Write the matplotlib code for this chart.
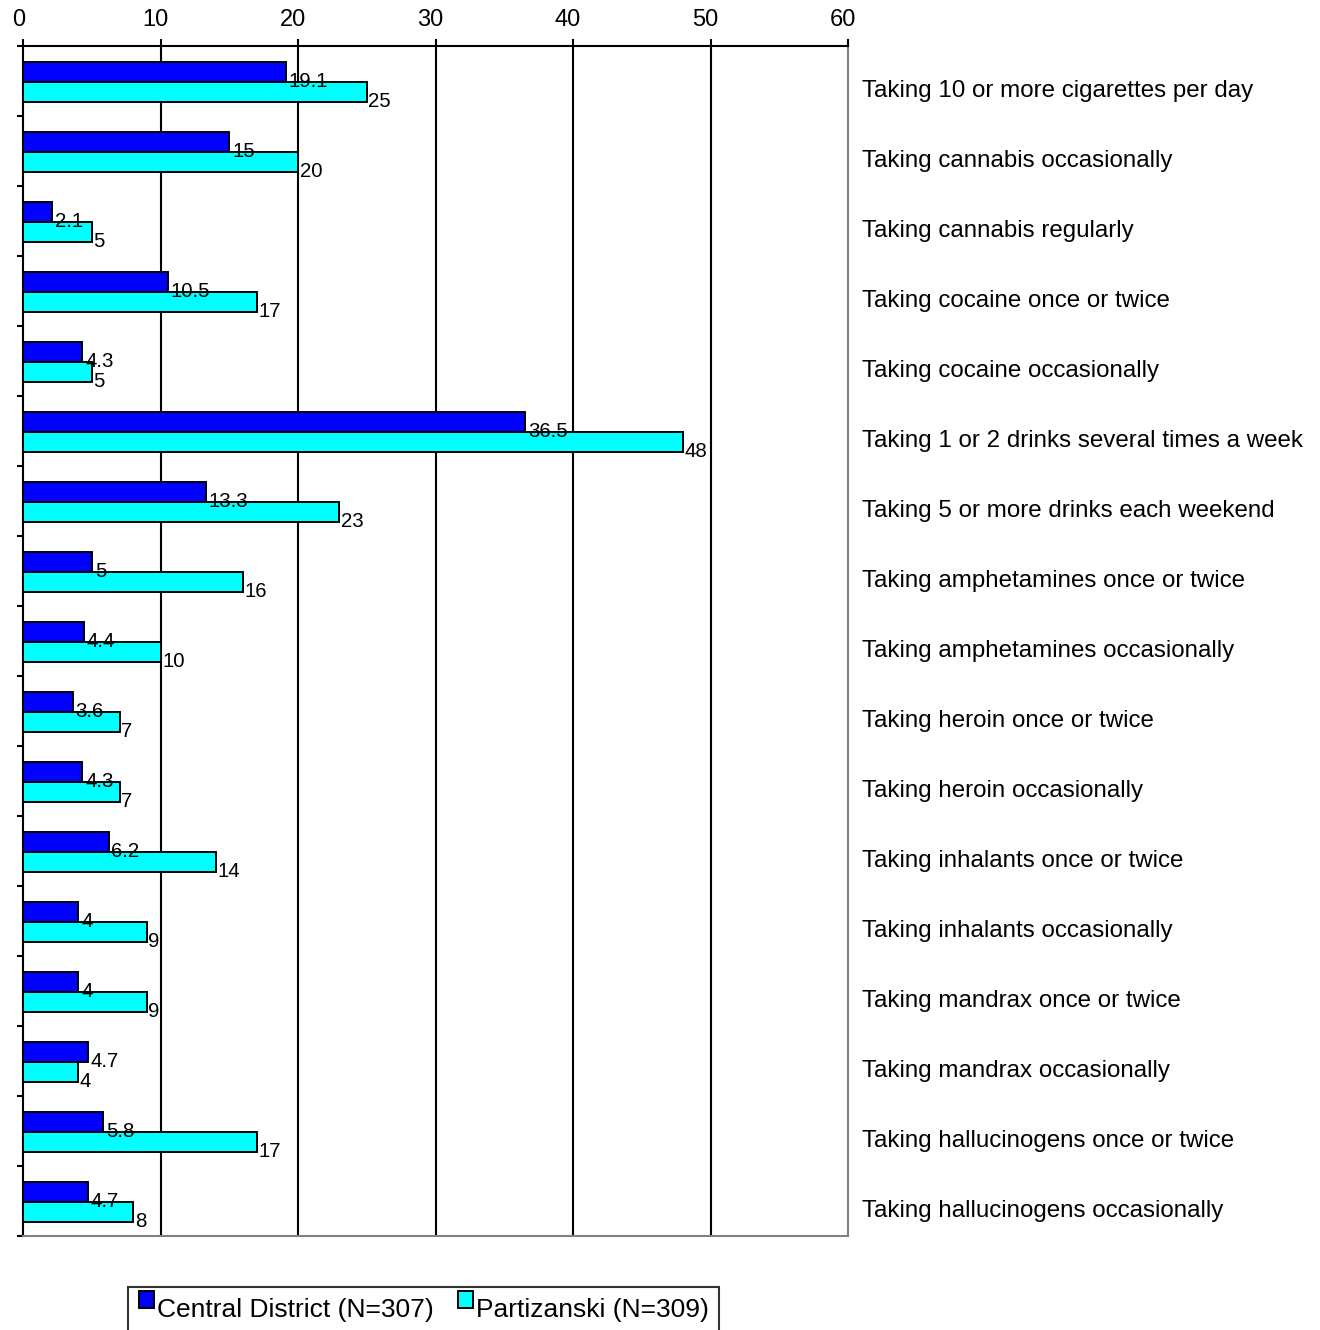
import matplotlib
matplotlib.use("Agg")
import matplotlib.pyplot as plt
import matplotlib.transforms as mtransforms
from matplotlib.patches import Patch, Rectangle
from matplotlib.legend_handler import HandlerPatch
import numpy as np

plt.rcParams['font.family'] = ['Liberation Sans', 'DejaVu Sans']

categories = [
    "Taking 10 or more cigarettes per day",
    "Taking cannabis occasionally",
    "Taking cannabis regularly",
    "Taking cocaine once or twice",
    "Taking cocaine occasionally",
    "Taking 1 or 2 drinks several times a week",
    "Taking 5 or more drinks each weekend",
    "Taking amphetamines once or twice",
    "Taking amphetamines occasionally",
    "Taking heroin once or twice",
    "Taking heroin occasionally",
    "Taking inhalants once or twice",
    "Taking inhalants occasionally",
    "Taking mandrax once or twice",
    "Taking mandrax occasionally",
    "Taking hallucinogens once or twice",
    "Taking hallucinogens occasionally",
]
central = [19.1, 15, 2.1, 10.5, 4.3, 36.5, 13.3, 5, 4.4, 3.6, 4.3, 6.2, 4, 4, 4.7, 5.8, 4.7]
partizanski = [25, 20, 5, 17, 5, 48, 23, 16, 10, 7, 7, 14, 9, 9, 4, 17, 8]
series_names = ["Central District (N=307)", "Partizanski (N=309)"]
xticks = [0, 10, 20, 30, 40, 50, 60]

W, H = 1320, 1330
fig = plt.figure(figsize=(W / 100, H / 100), dpi=100)
left, right, top, bottom = 23.3, 848, 46, 1236
ax = fig.add_axes([left / W, 1 - bottom / H, (right - left) / W, (bottom - top) / H])

y = np.arange(len(categories))
h = 0.286
ax.barh(y - h / 2 + 0.01, central, height=h, color='#0000FF', edgecolor='black',
        linewidth=1.4, zorder=3, label=series_names[0])
ax.barh(y + h / 2 + 0.01, partizanski, height=h, color='#00FFFF', edgecolor='black',
        linewidth=1.4, zorder=3, label=series_names[1])

for i, (c, p) in enumerate(zip(central, partizanski)):
    ax.annotate(f"{c:g}", (c, i + 0.08), xytext=(2, 0), textcoords='offset points',
                va='baseline', ha='left', fontsize=14.7, zorder=4)
    ax.annotate(f"{p:g}", (p, i + 0.37), xytext=(1, 0), textcoords='offset points',
                va='baseline', ha='left', fontsize=14.7, zorder=4)

ax.set_xlim(0, 60)
ax.set_ylim(len(categories) - 0.5, -0.5)
ax.set_xticks(xticks)
ax.xaxis.tick_top()
ax.tick_params(axis='x', which='major', direction='out', length=5, width=1.5,
               labelsize=17, pad=6, colors='black')
offset = mtransforms.ScaledTranslation(-5 / 100, 0, fig.dpi_scale_trans)
for lab in ax.get_xticklabels():
    lab.set_transform(lab.get_transform() + offset)

ax.set_yticks([])
ax.set_yticks(np.arange(-0.5, len(categories), 1.0), minor=True)
ax.tick_params(axis='y', which='minor', direction='out', length=4.5, width=1.5,
               left=True, right=False, labelleft=False)

ax.grid(axis='x', color='black', linewidth=1.5, zorder=1)
ax.set_axisbelow(True)
gl = ax.get_xgridlines()
gl[-1].set_visible(False)
gl[0].set_visible(False)

ax.spines['top'].set_color('black')
ax.spines['top'].set_linewidth(1.5)
ax.spines['left'].set_color('black')
ax.spines['left'].set_linewidth(1.5)
ax.spines['bottom'].set_color('#808080')
ax.spines['bottom'].set_linewidth(1.5)
ax.spines['right'].set_color('#808080')
ax.spines['right'].set_linewidth(1.5)

trans = mtransforms.blended_transform_factory(ax.transAxes, ax.transData)
for i, cat in enumerate(categories):
    ax.text(1.017, i + 0.235, cat, transform=trans, va='baseline', ha='left', fontsize=17.4)


def top_patch(legend, orig_handle, xdescent, ydescent, width, height, fontsize):
    return Rectangle((-xdescent, -ydescent + 5.5), width, height)


handles = [Patch(facecolor='#0000FF', edgecolor='black', linewidth=1.4),
           Patch(facecolor='#00FFFF', edgecolor='black', linewidth=1.4)]
leg = fig.legend(handles, series_names, loc='upper left',
                 bbox_to_anchor=(128 / W, 1 - 1287 / H), borderaxespad=0, ncol=2,
                 fontsize=19, frameon=True, fancybox=False, edgecolor='black',
                 handlelength=0.6, handleheight=0.6, handletextpad=0.1,
                 columnspacing=0.9, borderpad=0.4,
                 handler_map={Patch: HandlerPatch(patch_func=top_patch)})
leg.get_frame().set_linewidth(1.5)

fig.savefig("out.png", dpi=100)
